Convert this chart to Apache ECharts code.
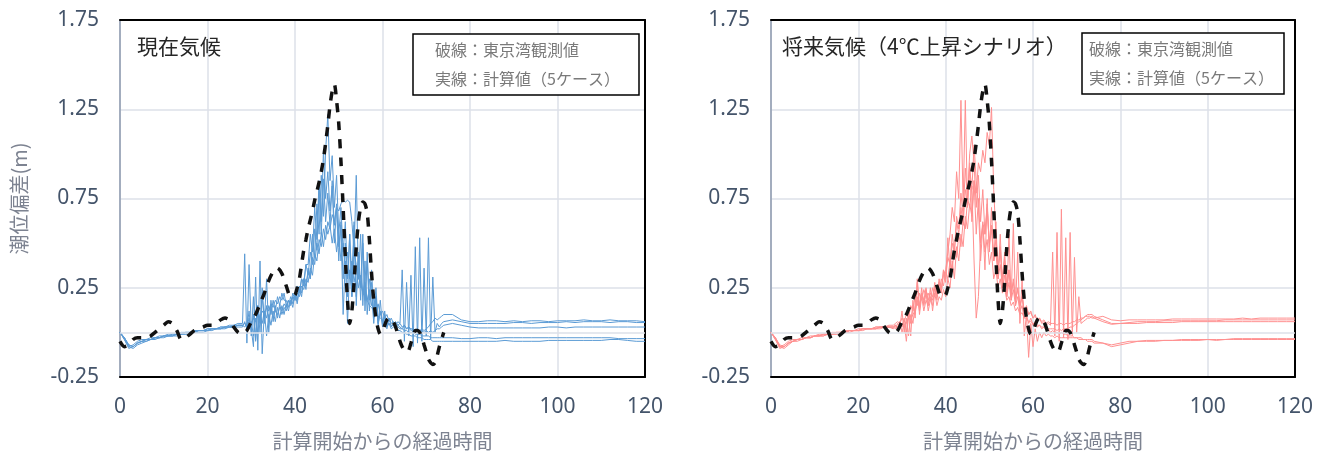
<!DOCTYPE html>
<html>
<head>
<meta charset="utf-8">
<script src="https://cdn.jsdelivr.net/npm/echarts@6/dist/echarts.min.js"></script>
<style>
  html, body { margin: 0; padding: 0; background: #ffffff; }
  #chart { width: 1327px; height: 454px; }
</style>
</head>
<body>
<div id="chart"></div>
<script>
// Time axis for the simulated runs (hours since start of computation)
const hours = [
  0, 1, 2, 3, 4, 5, 6, 7, 8, 9, 10, 11, 12, 13, 14, 15, 16, 17, 18, 19, 20, 21, 22, 23, 24, 25, 26, 27,
  28, 28.5, 29, 29.5, 30, 30.5, 31, 31.5, 32, 32.5,
  33, 33.5, 34, 34.5, 35, 35.5, 36, 36.5, 37, 37.5,
  38, 38.5, 39, 39.5, 40, 40.5, 41, 41.5, 42, 42.5,
  43, 43.5, 44, 44.5, 45, 45.5, 46, 46.5, 47, 47.5,
  48, 48.5, 49, 49.5, 50, 50.5, 51, 51.5, 52, 52.5,
  53, 53.5, 54, 54.5, 55, 55.5, 56, 56.5, 57, 57.5,
  58, 58.5, 59, 59.5, 60, 60.5, 61, 61.5, 62, 62.5,
  63, 63.5, 64, 64.5, 65, 65.5, 66, 66.5, 67, 67.5,
  68, 68.5, 69, 69.5, 70, 70.5, 71, 71.5, 72, 72.5,
  73, 73.5, 74,
  76, 78, 80, 82, 84, 86, 88, 90, 92, 94, 96, 98, 100, 102, 104, 106, 108, 110, 112, 114, 116, 118, 120
];

// Tokyo Bay observed surge (m)
const obsHours = [
  0, 1, 2, 3, 4, 5, 6, 7, 8, 9, 10, 11, 12, 13, 14, 15, 16, 17, 18, 19, 20,
  21, 22, 23, 24, 25, 26, 27, 28, 29, 30, 31, 32, 33, 34, 35, 36, 37, 38, 39, 40,
  40.5, 41, 41.5, 42, 42.5, 43, 43.5, 44, 44.5, 45,
  45.5, 46, 46.5, 47, 47.5, 48, 48.5, 49, 49.5, 50,
  50.5, 51, 51.5, 52, 52.5, 53, 53.5, 54, 54.5, 55,
  55.5, 56, 56.5, 57, 57.5, 58, 58.5, 59, 59.5, 60,
  60.5, 61, 61.5, 62, 62.5, 63, 63.5, 64, 64.5, 65,
  65.5, 66, 66.5, 67, 67.5, 68, 68.5, 69, 69.5, 70,
  70.5, 71, 71.5, 72, 72.5, 73, 73.5, 74
];
const observed = [
  -0.05, -0.08, -0.07, -0.04, -0.03, -0.03, -0.03, -0.02, 0.00, 0.02, 0.04,
  0.06, 0.05, 0.01, -0.04, -0.03, -0.01, 0.01, 0.02, 0.03, 0.04,
  0.04, 0.05, 0.07, 0.08, 0.07, 0.03, 0.00, -0.01, 0.01, 0.06,
  0.10, 0.16, 0.22, 0.29, 0.34, 0.36, 0.33, 0.26, 0.20, 0.21,
  0.25, 0.30, 0.38, 0.46, 0.52, 0.58, 0.63, 0.68, 0.74, 0.79,
  0.84, 0.90, 0.97, 1.06, 1.16, 1.27, 1.35, 1.39, 1.30, 1.17,
  0.96, 0.70, 0.42, 0.18, 0.05, 0.12, 0.28, 0.48, 0.62, 0.70,
  0.73, 0.72, 0.67, 0.52, 0.33, 0.18, 0.08, 0.02, -0.01, 0.00,
  0.04, 0.07, 0.08, 0.08, 0.06, 0.03, -0.01, -0.05, -0.08, -0.10,
  -0.11, -0.10, -0.06, -0.02, 0.01, 0.01, 0.00, -0.03, -0.07, -0.11,
  -0.15, -0.17, -0.18, -0.17, -0.13, -0.08, -0.04, 0.00
];

// Present climate, five computed cases (m)
const present1 = [
  0.00, -0.04, -0.08, -0.07, -0.05, -0.04, -0.04, -0.03, -0.03, -0.02, -0.02, -0.01, -0.01, -0.01,
  0.00, 0.00, 0.00, 0.01, 0.01, 0.01, 0.02, 0.02, 0.02, 0.03, 0.03, 0.04, 0.04, 0.05,
  0.05, 0.44, -0.06, 0.38, 0.02, -0.08, 0.31, -0.10, 0.40, -0.12,
  0.12, -0.02, 0.10, 0.04, 0.12, 0.06, 0.14, 0.08, 0.15, 0.10,
  0.16, 0.12, 0.18, 0.14, 0.22, 0.16, 0.24, 0.20, 0.30, 0.24,
  0.36, 0.30, 0.55, 0.42, 0.72, 0.55, 0.88, 0.65, 1.02, 1.22,
  0.85, 0.99, 0.70, 0.88, 0.55, 0.70, 0.45, 0.62, 0.30, 0.55,
  0.28, 0.60, 0.20, 0.45, 0.18, 0.50, 0.12, 0.45, 0.18, 0.35,
  0.10, 0.25, 0.05, 0.18, 0.03, 0.12, 0.02, 0.08, 0.03, 0.05,
  0.02, 0.04, 0.03, 0.02, 0.04, 0.02, 0.03, 0.01, 0.02, 0.01,
  0.02, 0.01, 0.02, 0.01, 0.02, 0.03, 0.05, 0.06, 0.08, 0.07,
  0.08, 0.09, 0.10,
  0.10, 0.07, 0.06, 0.06, 0.065, 0.065, 0.06, 0.065, 0.06, 0.065, 0.065, 0.06,
  0.065, 0.065, 0.065, 0.07, 0.065, 0.065, 0.07, 0.065, 0.065, 0.065, 0.06
];
const present2 = [
  0.00, -0.03, -0.07, -0.08, -0.06, -0.05, -0.04, -0.04, -0.03, -0.03, -0.02, -0.02, -0.01, -0.01,
  -0.01, 0.00, 0.00, 0.01, 0.01, 0.01, 0.02, 0.02, 0.02, 0.03, 0.03, 0.03, 0.04, 0.04,
  0.04, 0.05, 0.03, 0.08, 0.02, 0.10, -0.04, 0.15, 0.05, 0.20,
  0.06, 0.30, 0.00, 0.18, 0.06, 0.15, 0.08, 0.16, 0.10, 0.14,
  0.12, 0.18, 0.15, 0.20, 0.18, 0.25, 0.22, 0.30, 0.28, 0.38,
  0.38, 0.55, 0.45, 0.70, 0.52, 0.85, 0.62, 1.02, 0.75, 0.90,
  0.68, 0.82, 0.60, 0.72, 0.48, 0.60, 0.10, 0.40, 0.05, 0.35,
  0.20, 0.45, 0.88, 0.30, 0.55, 0.15, 0.40, 0.10, 0.30, 0.22,
  0.05, 0.20, 0.04, 0.12, 0.06, 0.10, 0.04, 0.08, 0.05, 0.06,
  0.04, 0.06, 0.05, 0.35, -0.05, 0.28, -0.02, 0.32, -0.08, 0.48,
  -0.06, 0.53, -0.05, 0.36, -0.02, 0.53, -0.04, 0.31, 0.00, 0.05,
  0.03, 0.05, 0.06,
  0.07, 0.06, 0.05, 0.05, 0.05, 0.05, 0.05, 0.055, 0.055, 0.05, 0.055, 0.055,
  0.055, 0.06, 0.055, 0.06, 0.06, 0.06, 0.055, 0.06, 0.06, 0.055, 0.055
];
const present3 = [
  0.00, -0.03, -0.07, -0.08, -0.06, -0.05, -0.05, -0.04, -0.03, -0.03, -0.02, -0.02, -0.02, -0.01,
  -0.01, 0.00, 0.00, 0.00, 0.01, 0.01, 0.01, 0.02, 0.02, 0.02, 0.03, 0.03, 0.03, 0.04,
  0.04, 0.05, 0.04, 0.06, 0.05, 0.08, 0.06, 0.10, 0.08, 0.12,
  0.10, 0.14, 0.12, 0.16, 0.14, 0.18, 0.16, 0.20, 0.18, 0.22,
  0.15, 0.18, 0.16, 0.20, 0.18, 0.22, 0.20, 0.26, 0.24, 0.30,
  0.28, 0.36, 0.32, 0.44, 0.40, 0.52, 0.48, 0.58, 0.52, 0.62,
  0.58, 0.66, 0.62, 0.70, 0.68, 0.72, 0.74, 0.73, 0.74, 0.73,
  0.62, 0.45, 0.38, 0.30, 0.28, 0.22, 0.20, 0.18, 0.15, 0.14,
  0.12, 0.10, 0.09, 0.08, 0.07, 0.06, 0.05, 0.05, 0.04, 0.04,
  0.03, 0.03, 0.02, 0.02, 0.01, 0.01, 0.00, 0.00, 0.00, -0.01,
  -0.01, -0.01, -0.02, -0.02, -0.02, -0.02, -0.03, -0.03, -0.03, -0.03,
  -0.03, -0.03, -0.03,
  -0.03, -0.035, -0.035, -0.03, -0.03, -0.035, -0.03, -0.03, -0.03, -0.03, -0.03, -0.03,
  -0.03, -0.03, -0.03, -0.03, -0.03, -0.03, -0.03, -0.035, -0.035, -0.035, -0.035
];
const present4 = [
  0.00, -0.04, -0.09, -0.08, -0.06, -0.05, -0.04, -0.04, -0.03, -0.03, -0.02, -0.02, -0.02, -0.01,
  -0.01, -0.01, 0.00, 0.00, 0.01, 0.01, 0.01, 0.02, 0.02, 0.02, 0.03, 0.03, 0.03, 0.04,
  0.04, 0.03, 0.05, 0.02, 0.06, -0.02, 0.08, 0.00, 0.10, 0.05,
  0.12, 0.08, 0.15, 0.10, 0.18, 0.12, 0.20, 0.15, 0.22, 0.18,
  0.18, 0.14, 0.20, 0.16, 0.22, 0.18, 0.26, 0.22, 0.30, 0.26,
  0.34, 0.30, 0.42, 0.38, 0.50, 0.44, 0.56, 0.48, 0.60, 0.55,
  0.60, 0.50, 0.58, 0.45, 0.55, 0.40, 0.50, 0.35, 0.45, 0.30,
  0.40, 0.28, 0.36, 0.25, 0.32, 0.22, 0.28, 0.18, 0.24, 0.15,
  0.20, 0.12, 0.16, 0.10, 0.12, 0.08, 0.10, 0.06, 0.08, 0.05,
  0.06, 0.04, 0.05, 0.03, 0.04, 0.02, 0.03, 0.02, 0.02, 0.01,
  0.02, 0.01, 0.01, 0.00, 0.01, 0.00, 0.01, 0.00, 0.01, 0.02,
  0.02, 0.03, 0.04,
  0.05, 0.04, 0.03, 0.025, 0.025, 0.025, 0.025, 0.025, 0.025, 0.025, 0.025, 0.03,
  0.03, 0.025, 0.03, 0.03, 0.03, 0.03, 0.03, 0.03, 0.03, 0.03, 0.03
];
const present5 = [
  0.00, -0.03, -0.08, -0.09, -0.07, -0.06, -0.05, -0.04, -0.04, -0.03, -0.03, -0.02, -0.02, -0.02,
  -0.01, -0.01, -0.01, 0.00, 0.00, 0.00, 0.01, 0.01, 0.02, 0.02, 0.02, 0.03, 0.03, 0.03,
  0.03, 0.06, 0.02, 0.12, -0.02, 0.20, -0.05, 0.15, 0.00, 0.25,
  0.05, 0.15, 0.06, 0.14, 0.08, 0.12, 0.10, 0.14, 0.12, 0.16,
  0.14, 0.18, 0.16, 0.22, 0.18, 0.26, 0.22, 0.30, 0.26, 0.38,
  0.32, 0.45, 0.38, 0.58, 0.46, 0.80, 0.55, 0.86, 0.62, 0.78,
  0.60, 0.85, 0.50, 0.70, 0.40, 0.62, 0.30, 0.50, 0.20, 0.55,
  0.20, 0.62, 0.15, 0.45, 0.25, 0.55, 0.18, 0.40, 0.12, 0.28,
  0.08, 0.20, 0.05, 0.12, 0.04, 0.08, 0.03, 0.05, 0.02, 0.03,
  0.02, 0.01, 0.01, 0.00, 0.00, -0.01, -0.01, -0.02, -0.02, -0.02,
  -0.03, -0.03, -0.03, -0.04, -0.04, -0.04, -0.04, -0.05, -0.05, -0.05,
  -0.05, -0.05, -0.05,
  -0.05, -0.05, -0.05, -0.05, -0.05, -0.05, -0.045, -0.05, -0.05, -0.05, -0.05, -0.045,
  -0.045, -0.045, -0.045, -0.045, -0.045, -0.045, -0.04, -0.04, -0.045, -0.05, -0.05
];

// Future climate (+4 degC scenario), five computed cases (m)
const future1 = [
  0.00, -0.04, -0.08, -0.07, -0.05, -0.04, -0.04, -0.03, -0.03, -0.02, -0.02, -0.01, -0.01, -0.01,
  0.00, 0.00, 0.00, 0.01, 0.01, 0.01, 0.02, 0.02, 0.02, 0.02, 0.03, 0.03, 0.03, 0.03,
  0.03, 0.04, 0.03, 0.05, 0.04, 0.06, 0.05, 0.08, 0.07, 0.10,
  0.12, 0.18, 0.14, 0.22, 0.16, 0.24, 0.18, 0.22, 0.20, 0.26,
  0.22, 0.28, 0.25, 0.32, 0.35, 0.45, 0.55, 0.70, 0.62, 0.90,
  0.75, 1.30, 0.72, 1.30, 0.70, 0.95, 0.62, 0.85, 0.55, 0.75,
  0.50, 0.60, 0.45, 0.52, 0.38, 0.45, 0.30, 0.35, 0.25, 0.30,
  0.22, 0.25, 0.18, 0.20, 0.15, 0.17, 0.12, 0.14, 0.10, 0.11,
  0.08, 0.08, 0.06, 0.06, 0.05, 0.05, 0.04, 0.04, 0.03, 0.03,
  0.03, 0.02, 0.02, 0.02, 0.02, 0.01, 0.02, 0.01, 0.02, 0.02,
  0.02, 0.03, 0.03, 0.04, 0.05, 0.06, 0.07, 0.08, 0.09, 0.10,
  0.10, 0.10, 0.09,
  0.07, 0.05, 0.05, 0.055, 0.06, 0.06, 0.06, 0.065, 0.065, 0.065, 0.065, 0.065,
  0.065, 0.065, 0.07, 0.07, 0.07, 0.07, 0.07, 0.07, 0.07, 0.07, 0.07
];
const future2 = [
  0.00, -0.03, -0.07, -0.08, -0.06, -0.05, -0.04, -0.04, -0.03, -0.03, -0.02, -0.02, -0.01, -0.01,
  -0.01, 0.00, 0.00, 0.00, 0.01, 0.01, 0.01, 0.02, 0.02, 0.02, 0.02, 0.03, 0.03, 0.03,
  0.03, 0.02, 0.05, 0.03, 0.12, 0.00, 0.08, -0.02, 0.10, 0.05,
  0.15, 0.28, 0.10, 0.20, 0.12, 0.18, 0.15, 0.25, 0.12, 0.22,
  0.15, 0.20, 0.18, 0.24, 0.20, 0.30, 0.25, 0.40, 0.30, 0.48,
  0.40, 0.55, 0.48, 0.65, 0.58, 0.72, 0.65, 0.85, 0.78, 0.95,
  0.90, 1.02, 0.95, 1.12, 1.05, 1.26, 0.80, 0.55, 0.35, 0.48,
  0.30, 0.42, 0.25, 0.35, 0.22, 0.28, 0.18, 0.24, 0.15, 0.20,
  0.12, 0.15, 0.10, 0.12, 0.08, 0.10, 0.06, 0.08, 0.05, 0.06,
  0.04, 0.05, 0.04, 0.45, -0.02, 0.56, -0.05, 0.69, -0.03, 0.53,
  -0.04, 0.56, -0.02, 0.42, 0.00, 0.20, 0.05, 0.06, 0.07, 0.08,
  0.08, 0.09, 0.08,
  0.06, 0.045, 0.05, 0.05, 0.05, 0.055, 0.055, 0.055, 0.055, 0.06, 0.06, 0.06,
  0.06, 0.06, 0.06, 0.06, 0.06, 0.06, 0.06, 0.06, 0.06, 0.06, 0.06
];
const future3 = [
  0.00, -0.03, -0.08, -0.09, -0.07, -0.05, -0.05, -0.04, -0.03, -0.03, -0.02, -0.02, -0.02, -0.01,
  -0.01, -0.01, 0.00, 0.00, 0.00, 0.01, 0.01, 0.01, 0.02, 0.02, 0.02, 0.02, 0.03, 0.03,
  0.02, 0.04, 0.01, 0.06, 0.00, 0.05, -0.05, 0.10, -0.02, 0.18,
  0.08, 0.30, 0.15, 0.22, 0.18, 0.25, 0.15, 0.20, 0.18, 0.28,
  0.20, 0.30, 0.22, 0.35, 0.28, 0.53, 0.35, 0.50, 0.45, 0.62,
  0.55, 0.70, 0.60, 0.80, 0.72, 0.92, 0.80, 1.05, 0.85, 0.70,
  0.40, 0.60, 0.35, 0.75, 0.45, 0.70, 0.40, 0.62, 0.30, 0.55,
  0.25, 0.45, 0.20, 0.55, 0.18, 0.61, 0.15, 0.45, 0.05, 0.30,
  -0.02, 0.10, -0.14, 0.05, -0.08, 0.02, -0.05, 0.00, -0.03, 0.00,
  -0.02, -0.01, -0.02, -0.02, -0.03, -0.02, -0.03, -0.03, -0.03, -0.03,
  -0.03, -0.03, -0.03, -0.03, -0.03, -0.04, -0.04, -0.04, -0.04, -0.05,
  -0.05, -0.05, -0.06,
  -0.06, -0.08, -0.07, -0.06, -0.05, -0.05, -0.05, -0.045, -0.045, -0.045, -0.045, -0.045,
  -0.04, -0.045, -0.04, -0.04, -0.04, -0.04, -0.04, -0.04, -0.04, -0.04, -0.04
];
const future4 = [
  0.00, -0.04, -0.09, -0.08, -0.06, -0.05, -0.04, -0.04, -0.03, -0.03, -0.02, -0.02, -0.02, -0.01,
  -0.01, -0.01, 0.00, 0.00, 0.01, 0.01, 0.01, 0.02, 0.02, 0.02, 0.02, 0.03, 0.03, 0.04,
  0.04, 0.05, 0.06, 0.05, 0.08, 0.06, 0.10, 0.08, 0.15, 0.12,
  0.20, 0.15, 0.22, 0.18, 0.24, 0.20, 0.22, 0.18, 0.25, 0.20,
  0.26, 0.22, 0.30, 0.26, 0.34, 0.30, 0.40, 0.35, 0.48, 0.42,
  0.55, 0.48, 0.62, 0.58, 0.75, 0.70, 0.82, 0.40, 0.08, 0.20,
  0.50, 0.62, 0.55, 0.70, 0.50, 0.58, 0.40, 0.45, 0.30, 0.38,
  0.25, 0.32, 0.20, 0.28, 0.18, 0.24, 0.15, 0.20, 0.12, 0.15,
  0.08, 0.10, 0.05, 0.08, 0.04, 0.06, 0.03, 0.04, 0.02, 0.03,
  0.01, 0.02, 0.00, 0.01, 0.00, 0.00, -0.01, 0.00, -0.01, -0.01,
  -0.02, -0.02, -0.02, -0.03, -0.03, -0.03, -0.03, -0.04, -0.04, -0.04,
  -0.04, -0.04, -0.05,
  -0.06, -0.07, -0.06, -0.05, -0.05, -0.045, -0.045, -0.045, -0.045, -0.04, -0.04, -0.04,
  -0.04, -0.04, -0.04, -0.035, -0.035, -0.035, -0.035, -0.035, -0.035, -0.035, -0.035
];
const future5 = [
  0.00, -0.03, -0.08, -0.08, -0.06, -0.05, -0.04, -0.04, -0.03, -0.03, -0.02, -0.02, -0.01, -0.01,
  -0.01, 0.00, 0.00, 0.00, 0.01, 0.01, 0.01, 0.02, 0.02, 0.02, 0.03, 0.03, 0.03, 0.03,
  0.03, 0.04, 0.02, 0.06, 0.03, 0.08, 0.00, 0.12, 0.05, 0.15,
  0.10, 0.20, 0.12, 0.25, 0.15, 0.22, 0.12, 0.18, 0.15, 0.25,
  0.18, 0.28, 0.22, 0.35, 0.30, 0.42, 0.38, 0.55, 0.45, 0.65,
  0.58, 0.78, 0.65, 0.92, 0.75, 1.00, 1.10, 0.95, 0.70, 0.88,
  0.62, 0.80, 0.55, 0.72, 0.48, 0.60, 0.40, 0.52, 0.35, 0.45,
  0.28, 0.40, 0.22, 0.35, 0.20, 0.30, 0.18, 0.25, 0.15, 0.20,
  0.12, 0.14, 0.10, 0.11, 0.08, 0.09, 0.07, 0.08, 0.06, 0.07,
  0.05, 0.06, 0.05, 0.05, 0.05, 0.04, 0.05, 0.05, 0.04, 0.05,
  0.05, 0.05, 0.06, 0.06, 0.07, 0.07, 0.08, 0.08, 0.09, 0.09,
  0.09, 0.08, 0.08,
  0.09, 0.07, 0.065, 0.07, 0.07, 0.07, 0.07, 0.07, 0.075, 0.075, 0.075, 0.075,
  0.075, 0.075, 0.075, 0.075, 0.08, 0.075, 0.08, 0.08, 0.08, 0.08, 0.08
];

const presentCases = [present1, present2, present3, present4, present5];
const futureCases = [future1, future2, future3, future4, future5];

const yTicks = { min: -0.25, max: 1.75, interval: 0.5 };
const xTicks = { min: 0, max: 120, interval: 20 };

const panelTitles = ['現在気候', '将来気候（4℃上昇シナリオ）'];
const noteLines = ['破線：東京湾観測値', '実線：計算値（5ケース）'];
const xAxisTitle = '計算開始からの経過時間';
const yAxisTitle = '潮位偏差(m)';

const JP = '"Noto Sans CJK JP", "Noto Sans", sans-serif';
const NUM = '"Noto Sans", "Open Sans", sans-serif';
const gridColor = '#DCE1E9';
const tickColor = '#44546A';
const nameColor = '#7D8391';
const presentColor = '#5B9BD5';
const futureColor = '#FF9090';

const chart = echarts.init(document.getElementById('chart'), null, { renderer: 'canvas' });

function bottomX(gridIndex) {
  return {
    type: 'value', gridIndex, ...xTicks,
    axisLine: { show: true, onZero: false, lineStyle: { color: '#000', width: 2 } },
    axisTick: { show: false },
    axisLabel: { color: tickColor, fontSize: 21, fontFamily: NUM, margin: 20 },
    splitLine: { show: true, lineStyle: { color: gridColor, width: 1.5 } },
    name: xAxisTitle, nameLocation: 'middle', nameGap: 54,
    nameTextStyle: { color: nameColor, fontSize: 20, fontFamily: JP }
  };
}
function borderX(gridIndex) {
  return {
    type: 'value', gridIndex, position: 'top', ...xTicks,
    axisLine: { show: true, onZero: false, lineStyle: { color: '#000', width: 2 } },
    axisTick: { show: false }, axisLabel: { show: false }, splitLine: { show: false }
  };
}
function leftY(gridIndex, withName) {
  const ax = {
    type: 'value', gridIndex, ...yTicks,
    axisLine: { show: true, onZero: false, lineStyle: { color: '#8C9AAE', width: 1.5 } },
    axisTick: { show: false },
    axisLabel: { color: tickColor, fontSize: 21, fontFamily: NUM, margin: 21,
                 formatter: v => v.toFixed(2) },
    splitLine: { show: true, lineStyle: { color: gridColor, width: 1.5 } }
  };
  if (withName) {
    ax.name = yAxisTitle;
    ax.nameLocation = 'middle';
    ax.nameGap = 91;
    ax.nameTextStyle = { color: nameColor, fontSize: 20, fontFamily: JP };
  }
  return ax;
}
function borderY(gridIndex) {
  return {
    type: 'value', gridIndex, position: 'right', ...yTicks,
    axisLine: { show: true, onZero: false, lineStyle: { color: '#000', width: 2 } },
    axisTick: { show: false }, axisLabel: { show: false }, splitLine: { show: false }
  };
}

function caseSeries(values, idx, color) {
  return {
    type: 'line', xAxisIndex: idx, yAxisIndex: idx,
    data: hours.map((h, i) => [h, values[i]]),
    symbol: 'none', silent: true, z: 3,
    lineStyle: { color, width: 1 }
  };
}
function observedSeries(idx) {
  return {
    type: 'line', xAxisIndex: idx, yAxisIndex: idx,
    data: obsHours.map((h, i) => [h, observed[i]]),
    symbol: 'none', silent: true, z: 5, smooth: 0.25,
    lineStyle: { color: '#111', width: 3.5, type: [9, 9], cap: 'butt' }
  };
}
function zeroLine(idx) {
  return {
    type: 'line', xAxisIndex: idx, yAxisIndex: idx, data: [], z: 1,
    markLine: {
      silent: true, symbol: 'none', label: { show: false },
      lineStyle: { color: gridColor, width: 1.5, type: 'solid' },
      data: [{ yAxis: 0 }]
    }
  };
}

function notePanel(x, y, w, h, textX) {
  return [
    { type: 'rect', shape: { x, y, width: w, height: h },
      style: { fill: '#fff', stroke: '#000', lineWidth: 1.5 }, z: 10 },
    { type: 'text', x: textX, y: y + 16, z: 11,
      style: { text: noteLines[0], font: '16px ' + JP, fill: '#7A7A7A', verticalAlign: 'middle' } },
    { type: 'text', x: textX, y: y + 45, z: 11,
      style: { text: noteLines[1], font: '16px ' + JP, fill: '#7A7A7A', verticalAlign: 'middle' } }
  ];
}

const option = {
  animation: false,
  backgroundColor: '#ffffff',
  grid: [
    { left: 120, right: 682, top: 20, bottom: 77, outerBoundsMode: 'none', containLabel: false },
    { left: 771, right: 32, top: 20, bottom: 77, outerBoundsMode: 'none', containLabel: false }
  ],
  xAxis: [bottomX(0), bottomX(1), borderX(0), borderX(1)],
  yAxis: [leftY(0, true), leftY(1, false), borderY(0), borderY(1)],
  series: [
    zeroLine(0), zeroLine(1),
    ...presentCases.map(v => caseSeries(v, 0, presentColor)),
    ...futureCases.map(v => caseSeries(v, 1, futureColor)),
    observedSeries(0), observedSeries(1)
  ],
  graphic: [
    { type: 'text', x: 137, y: 46, z: 11,
      style: { text: panelTitles[0], font: '21px ' + JP, fill: '#262626', verticalAlign: 'middle' } },
    { type: 'text', x: 782, y: 46, z: 11,
      style: { text: panelTitles[1], font: '21px ' + JP, fill: '#262626', verticalAlign: 'middle' } },
    ...notePanel(413, 34, 226, 61, 435),
    ...notePanel(1082, 33, 202, 61, 1089)
  ]
};

chart.setOption(option);
</script>
</body>
</html>
